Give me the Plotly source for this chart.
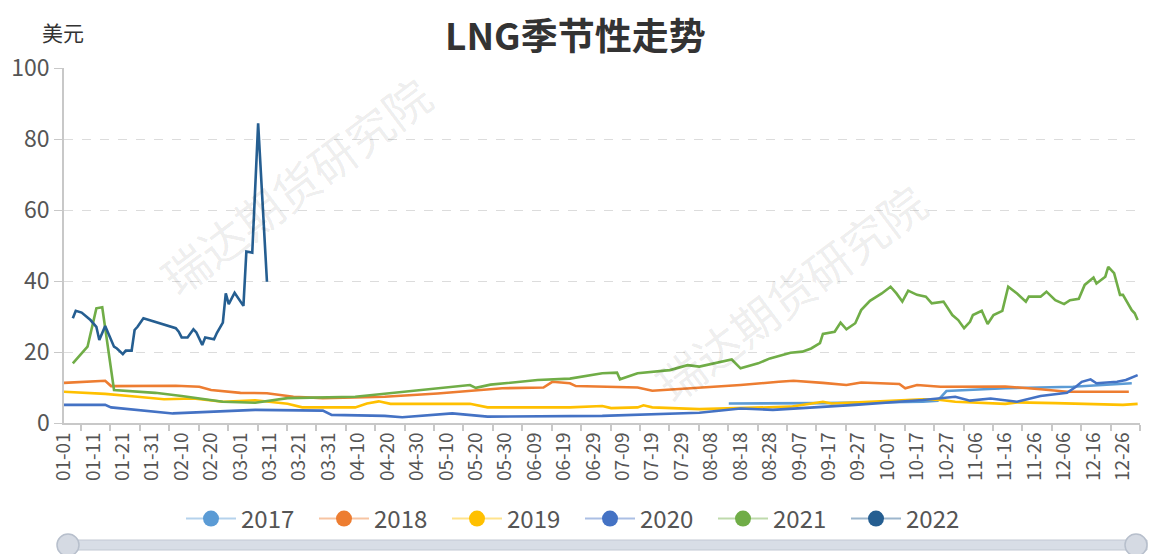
import datetime
import plotly.graph_objects as go

# ---------------- categories (MM-DD, leap-year calendar) ----------------
_start = datetime.date(2020, 1, 1)
days = [(_start + datetime.timedelta(d)).strftime("%m-%d") for d in range(366)]
tick_labels = days[::10]

years = ["2017", "2018", "2019", "2020", "2021", "2022"]
colors = ["#5B9BD5", "#ED7D31", "#FFC000", "#4472C4", "#70AD47", "#255E91"]

# ---------------- series values ----------------
d2017 = ["08-14", "09-15", "10-19", "10-24", "10-27", "11-16", "12-09", "12-29"]
v2017 = [5.5, 5.6, 6.0, 6.3, 9.0, 9.8, 10.2, 11.2]

d2018 = ["01-01", "01-15", "01-17", "02-08", "02-16", "02-20", "03-01", "03-10", "03-19",
         "03-29", "04-19", "05-07", "05-29", "06-12", "06-15", "06-21", "06-23", "07-14",
         "07-19", "07-25", "08-04", "08-18", "08-31", "09-05", "09-15", "09-23", "09-28",
         "10-11", "10-13", "10-17", "10-25", "10-30", "11-16", "11-28", "12-07", "12-28"]
v2018 = [11.3, 11.9, 10.4, 10.5, 10.2, 9.3, 8.5, 8.4, 7.4,
         7.0, 7.4, 8.3, 9.8, 10.0, 11.6, 11.2, 10.4, 10.0,
         9.1, 9.4, 10.0, 10.7, 11.6, 11.9, 11.3, 10.7, 11.4,
         11.0, 9.8, 10.7, 10.2, 10.2, 10.3, 9.5, 8.8, 8.8]

d2019 = ["01-01", "01-15", "01-26", "02-04", "02-14", "02-24", "03-06", "03-17", "03-22",
         "04-09", "04-13", "04-17", "04-21", "05-18", "05-24", "06-21", "07-02", "07-05",
         "07-14", "07-16", "07-19", "08-04", "09-04", "09-15", "09-18", "10-19", "10-25",
         "10-30", "11-16", "11-20", "12-03", "12-26", "12-31"]
v2019 = [8.8, 8.2, 7.4, 6.7, 6.9, 6.0, 6.4, 5.4, 4.4,
         4.4, 5.5, 6.1, 5.4, 5.4, 4.4, 4.4, 4.8, 4.2,
         4.4, 5.0, 4.4, 3.9, 4.6, 6.0, 5.5, 6.7, 6.5,
         6.0, 5.4, 5.8, 5.6, 5.1, 5.4]

d2020 = ["01-01", "01-15", "01-17", "02-07", "03-06", "03-29", "04-01", "04-19", "04-25",
         "05-12", "05-24", "07-02", "08-04", "08-18", "08-29", "09-26", "10-19", "10-26",
         "10-30", "11-04", "11-11", "11-20", "11-28", "12-07", "12-10", "12-12", "12-15",
         "12-17", "12-24", "12-27", "12-31"]
v2020 = [5.1, 5.1, 4.4, 2.7, 3.7, 3.5, 2.3, 2.0, 1.6,
         2.7, 1.8, 2.0, 2.9, 4.1, 3.7, 5.1, 6.5, 7.2,
         7.4, 6.3, 6.9, 6.0, 7.6, 8.5, 10.2, 11.6, 12.3,
         11.2, 11.6, 12.1, 13.5]

d2021 = ["01-04", "01-07", "01-09", "01-12", "01-14", "01-18", "02-01", "02-10", "02-24",
         "03-06", "03-17", "04-09", "04-15", "04-20", "05-18", "05-20", "05-25", "06-10",
         "06-21", "07-02", "07-07", "07-08", "07-14", "07-25", "07-31", "08-04", "08-15",
         "08-18", "08-24", "08-28", "09-04", "09-08", "09-11", "09-14", "09-15", "09-19",
         "09-21", "09-23", "09-26", "09-28", "10-01", "10-05", "10-08", "10-10", "10-12",
         "10-14", "10-17", "10-20", "10-22", "10-26", "10-29", "10-31", "11-02", "11-04",
         "11-05", "11-08", "11-10", "11-12", "11-15", "11-17", "11-20", "11-23", "11-24",
         "11-28", "11-30", "12-03", "12-06", "12-08", "12-11", "12-13", "12-16", "12-17",
         "12-20", "12-21", "12-23", "12-25", "12-26", "12-29", "12-30", "12-31"]
v2021 = [16.8, 19.6, 21.5, 32.3, 32.6, 9.3, 8.5, 7.6, 6.0,
         5.7, 7.0, 7.4, 7.9, 8.5, 10.7, 9.9, 10.8, 12.1,
         12.5, 14.0, 14.2, 12.3, 14.0, 14.9, 16.3, 15.9, 17.9,
         15.4, 16.8, 18.2, 19.8, 20.1, 21.0, 22.5, 25.1, 25.7,
         28.3, 26.4, 28.1, 31.8, 34.4, 36.5, 38.4, 36.5, 34.2,
         37.3, 36.1, 35.6, 33.7, 34.2, 30.4, 29.0, 26.7, 28.5,
         30.4, 31.6, 27.9, 30.4, 31.6, 38.4, 36.5, 34.2, 35.6,
         35.6, 37.0, 34.6, 33.5, 34.6, 35.0, 38.9, 41.0, 39.3,
         41.2, 44.0, 42.2, 36.1, 36.1, 31.8, 30.9, 29.0]

d2022 = ["01-04", "01-05", "01-07", "01-10", "01-12", "01-13", "01-15", "01-17", "01-18",
         "01-19", "01-21", "01-22", "01-24", "01-25", "01-26", "01-28", "02-01", "02-08",
         "02-09", "02-10", "02-12", "02-14", "02-15", "02-17", "02-18", "02-21", "02-22",
         "02-24", "02-25", "02-26", "02-28", "03-02", "03-03", "03-05", "03-07", "03-10"]
v2022 = [29.5, 31.6, 31.1, 29.0, 27.1, 23.4, 27.3, 23.4, 21.5,
         21.0, 19.4, 20.4, 20.4, 26.2, 27.1, 29.5, 28.5, 26.7,
         25.7, 24.1, 24.1, 26.4, 25.5, 22.0, 24.1, 23.6, 25.4,
         28.3, 36.5, 33.5, 36.7, 33.0, 48.3, 48.0, 84.4, 39.8]

series_dates = [d2017, d2018, d2019, d2020, d2021, d2022]
series_vals = [v2017, v2018, v2019, v2020, v2021, v2022]

y_ticks = [0, 20, 40, 60, 80, 100]

# ---------------- figure geometry (page has an 8px body margin) ----------------
OFF = 8
W, H = 1157 - OFF, 554 - OFF
PLOT_L, PLOT_R, PLOT_T, PLOT_B = 64, 1140, 68, 423      # page pixels
L, T = PLOT_L - OFF, PLOT_T - OFF
R, B = 1157 - PLOT_R, 554 - PLOT_B
PW, PH = PLOT_R - PLOT_L, PLOT_B - PLOT_T


def px_x(px):
    return (px - PLOT_L) / PW


def px_y(py):
    return (PLOT_B - py) / PH


idx = {d: i for i, d in enumerate(days)}
fig = go.Figure()

for name, col, ds, vs in zip(years, colors, series_dates, series_vals):
    fig.add_trace(go.Scatter(
        x=[idx[d] for d in ds], y=vs, mode="lines", name=name,
        line=dict(color=col, width=2.6), showlegend=False, hoverinfo="skip"))


def lighten(hexc, a=0.45):
    h = hexc.lstrip("#")
    r, g, b = int(h[0:2], 16), int(h[2:4], 16), int(h[4:6], 16)
    return f"rgba({r},{g},{b},{a})"


for name, col in zip(years, colors):
    fig.add_trace(go.Scatter(
        x=[None], y=[None], mode="lines+markers", name=name,
        line=dict(color=lighten(col), width=2),
        marker=dict(color=col, size=18, symbol="circle"), showlegend=True))

font_fam = "Noto Sans CJK SC, Noto Sans, sans-serif"

fig.update_layout(
    width=W, height=H,
    margin=dict(l=L, r=R, t=T, b=B, autoexpand=False),
    paper_bgcolor="white", plot_bgcolor="white",
    font=dict(family=font_fam, color="#555"),
    legend=dict(orientation="h", x=px_x(580), xanchor="center", y=px_y(519), yanchor="middle",
                font=dict(size=24, color="#555"), itemwidth=50, tracegroupgap=0,
                entrywidth=68, entrywidthmode="pixels",
                bgcolor="rgba(0,0,0,0)"),
    xaxis=dict(range=[0, 365.8], showgrid=False, zeroline=False,
               tickmode="array", tickvals=[idx[t] for t in tick_labels], ticktext=tick_labels,
               tickangle=-90, tickfont=dict(size=19, color="#555"), ticks="",
               showline=True, linecolor="#c8c8c8", linewidth=1.5,
               minor=dict(tickmode="array", tickvals=[5.8 + 10 * k for k in range(37)],
                          ticks="outside", ticklen=6, tickcolor="#c8c8c8", tickwidth=1.5,
                          showgrid=False)),
    yaxis=dict(range=[0, 100], tickvals=y_ticks, showgrid=True, gridcolor="#dcdcdc",
               griddash="dash", gridwidth=1, zeroline=False, showline=True,
               linecolor="#c8c8c8", linewidth=1.5, ticks="outside", ticklen=8,
               tickcolor="#c8c8c8", tickfont=dict(size=23, color="#555")),
)

# chart title
fig.add_annotation(text="<b>LNG季节性走势</b>", xref="paper", yref="paper",
                   x=px_x(575), y=px_y(34), showarrow=False, xanchor="center", yanchor="middle",
                   font=dict(size=37, color="#333", family=font_fam))

# axis name
fig.add_annotation(text="美元", xref="paper", yref="paper", x=px_x(63), y=px_y(32),
                   showarrow=False, font=dict(size=21, color="#333", family=font_fam),
                   xanchor="center", yanchor="middle")

# watermarks
for cx, cy in [(295, 185), (790, 292)]:
    fig.add_annotation(text="瑞达期货研究院", xref="paper", yref="paper",
                       x=px_x(cx), y=px_y(cy), showarrow=False, textangle=-37,
                       xanchor="center", yanchor="middle",
                       font=dict(size=46, color="rgba(0,0,0,0.085)", family=font_fam))

# data-zoom slider bar
fig.add_shape(type="rect", xref="paper", yref="paper",
              x0=px_x(60), x1=px_x(1147), y0=px_y(550), y1=px_y(540),
              fillcolor="#d8dde6", line=dict(color="#c2c8d3", width=1), layer="above")
for hx in (68, 1136):
    fig.add_shape(type="circle", xref="paper", yref="paper",
                  x0=px_x(hx - 11), x1=px_x(hx + 11), y0=px_y(556), y1=px_y(534),
                  fillcolor="#d5dae3", line=dict(color="#b7bfcc", width=1.5), layer="above")

fig.write_html("out.html")
